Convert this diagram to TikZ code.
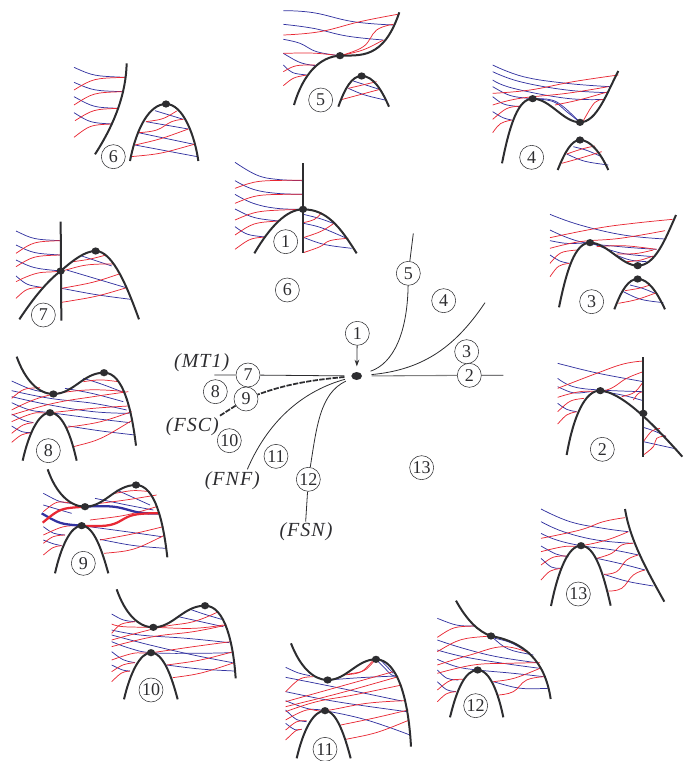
\documentclass[tikz,border=0pt]{standalone}
\usepackage{fontspec}
\setmainfont{Liberation Serif}
\usepackage{xcolor}
\definecolor{folblue}{RGB}{50,50,160}
\definecolor{folred}{RGB}{232,40,52}
\definecolor{sepdark}{RGB}{45,45,48}
\usetikzlibrary{arrows.meta, shapes.geometric}

\begin{document}
\begin{tikzpicture}[
  x=0.75pt, y=-0.75pt, tension=0.7,
  bf/.style={color=folblue, line width=0.55pt},
  rf/.style={color=folred, line width=0.55pt},
  bfat/.style={color=folblue, line width=1.7pt},
  rfat/.style={color=folred, line width=1.7pt},
  wall/.style={color=sepdark, line width=1.5pt},
  pt/.style={ellipse, fill=sepdark, inner sep=0pt, minimum width=6.2pt, minimum height=5.4pt},
  num/.style={circle, draw=sepdark, line width=0.4pt, fill=white, inner sep=0pt, minimum size=18pt,
              font=\fontsize{13.5}{15}\selectfont, text=sepdark},
  lbl/.style={font=\fontsize{15}{17}\selectfont\itshape\addfontfeature{LetterSpace=5}, text=sepdark},
  arc/.style={color=sepdark, line width=0.6pt},
  fsc/.style={color=sepdark, line width=1.3pt, dash pattern=on 4pt off 1pt}
]
  \useasboundingbox (0,0) rectangle (686,761);

  % Centre
  \begin{scope}[shift={(160,220)}, scale=1/3]
    \node[pt, minimum width=8pt, minimum height=6pt] (dot) at (590,468) {};
    \node[num] (c1) at (592,340) {1};
    \node[num] (c2) at (928,466) {2};
    \node[num] (c3) at (920,395) {3};
    \node[num] (c4) at (851,242) {4};
    \node[num] (c5) at (745,160) {5};
    \node[num] (c6) at (382,210) {6};
    \node[num] (c7) at (264,465) {7};
    \node[num] (c8) at (166,515) {8};
    \node[num] (c9) at (258,537) {9};
    \node[num] (c10) at (208,662) {10};
    \node[num] (c11) at (348,709) {11};
    \node[num] (c12) at (445,778) {12};
    \node[num] (c13) at (785,743) {13};
    \node[lbl] (mt) at (125,428) {(MT1)};
    \node[lbl] (fsc) at (97,620) {(FSC)};
    \node[lbl] (fnf) at (217,783) {(FNF)};
    \node[lbl] (fsn) at (438,935) {(FSN)};
    \coordinate (top5) at (760,40);
    \coordinate (top4) at (975,248);
    \coordinate (end2) at (1030,466);
    \coordinate (end7) at (163,465);
    \coordinate (end9) at (180,587);
    \coordinate (endf) at (262,748);
    \coordinate (end12) at (437,905);

    \draw[-{Stealth[length=5pt,width=3.5pt]}, arc, shorten >=4pt] (c1) -- (dot);
    \draw[arc, shorten <=7pt] (dot) .. controls (700,430) and (742,340) .. (c5);
    \draw[arc] (c5) -- (top5);
    \draw[arc, shorten <=7pt] (dot) .. controls (780,450) and (880,390) .. (top4);
    \draw[arc, gray, line width=0.8pt, shorten <=7pt] (dot) -- (c2);
    \draw[arc] (c2) -- (end2);
    \draw[arc, shorten <=5pt] (dot) -- (c7);
    \draw[arc] (c7) -- (end7);
    \draw[fsc, shorten <=5pt] (dot) .. controls (450,480) and (370,495) .. (c9);
    \draw[fsc] (c9) -- (end9);
    \draw[arc, shorten <=5pt] (dot) .. controls (440,510) and (330,590) .. (endf);
    \draw[arc, shorten <=5pt] (dot) .. controls (480,520) and (470,620) .. (c12);
    \draw[arc] (c12) -- (end12);
  \end{scope}

  % 1 and 5
  \begin{scope}[shift={(220,0)}, scale=1/3]
    \draw[bf] plot[smooth] coordinates {(45,487)(110,525)(170,538)(249,542)};
    \draw[bf] plot[smooth] coordinates {(45,542)(100,568)(170,580)(249,583)};
    \draw[bf] plot[smooth] coordinates {(45,583)(100,610)(170,625)(249,628)};
    \draw[bf] (45,627) .. controls (100,655) .. (176,663);
    \draw[bf] (45,680) .. controls (80,705) .. (135,711);
    \draw[rf] (45,565) .. controls (110,541) .. (249,541);
    \draw[rf] (45,610) .. controls (110,583) .. (249,583);
    \draw[rf] (45,660) .. controls (110,632) .. (249,628);
    \draw[rf] (45,705) .. controls (100,668) .. (176,663);
    \draw[rf] (45,748) .. controls (90,715) .. (135,711);
    \draw[bf] (250,643) .. controls (300,655) .. (345,672);
    \draw[bf] (250,670) .. controls (300,680) .. (380,715);
    \draw[bf] (250,712) .. controls (310,735) .. (395,745);
    \draw[rf] (250,668) .. controls (285,660) .. (305,638);
    \draw[rf] (250,713) .. controls (305,695) .. (345,668);
    \draw[rf] plot[smooth] coordinates {(250,758)(300,740)(330,722)(385,715)};
    \draw[wall] (249,490) -- (249,758);
    \draw[wall] (103,760) .. controls (150,680) and (200,628) .. (249,628) .. controls (320,628) and (360,680) .. (410,760);
    \node[pt] (a1) at (249,628) {};
    \node[num] (n1) at (197,725) {1};

    \draw[bf] plot[smooth] coordinates {(190,32)(280,38)(400,65)(520,75)};
    \draw[bf] plot[smooth] coordinates {(190,73)(280,85)(380,108)(490,120)};
    \draw[bf] plot[smooth] coordinates {(190,118)(240,130)(290,155)(360,167)};
    \draw[bf] (190,160) .. controls (240,190) .. (285,197);
    \draw[bf] (190,195) .. controls (215,220) .. (260,225);
    \draw[rf] plot[smooth] coordinates {(190,105)(300,95)(420,65)(538,42)};
    \draw[rf] (190,160) .. controls (280,158) .. (360,167);
    \draw[rf] plot[smooth] coordinates {(360,167)(430,140)(470,90)(520,73)};
    \draw[rf] (360,167) .. controls (430,152) .. (490,120);
    \draw[rf] (190,215) .. controls (225,195) .. (285,195);
    \draw[rf] (190,257) .. controls (220,232) .. (260,225);
    \draw[bf] (400,243) .. controls (440,255) .. (478,268);
    \draw[bf] (385,265) .. controls (430,285) .. (495,300);
    \draw[rf] (385,265) .. controls (430,255) .. (470,245);
    \draw[rf] (360,300) .. controls (420,285) .. (480,268);
    \draw[wall] (222,315) .. controls (250,220) and (300,170) .. (360,167) .. controls (420,165) and (490,180) .. (538,37);
    \draw[wall] (355,320) .. controls (375,265) and (395,228) .. (425,228) .. controls (460,228) and (485,270) .. (507,320);
    \node[pt] (a5) at (360,167) {};
    \node[pt] (b5) at (425,228) {};
    \node[num] (n5) at (302,300) {5};
  \end{scope}

  % 4 and 3
  \begin{scope}[shift={(480,50)}, scale=1/3]
    \draw[bf] plot[smooth] coordinates {(38,45)(130,80)(260,100)(390,110)};
    \draw[bf] plot[smooth] coordinates {(38,65)(120,95)(260,120)(385,128)};
    \draw[bf] plot[smooth] coordinates {(38,90)(100,115)(260,145)(375,148)};
    \draw[bf] (38,110) .. controls (90,140) .. (158,146);
    \draw[bf] (38,140) .. controls (70,165) .. (120,170);
    \draw[bf] (38,185) .. controls (70,205) .. (95,210);
    \draw[bf] plot[smooth] coordinates {(158,146)(220,155)(260,185)(300,217)};
    \draw[bf] plot[smooth] coordinates {(170,146)(215,150)(250,170)(300,217)};
    \draw[rf] plot[smooth] coordinates {(38,130)(150,120)(280,95)(415,75)};
    \draw[rf] plot[smooth] coordinates {(38,165)(120,145)(260,130)(385,110)};
    \draw[rf] (38,208) .. controls (80,172) .. (120,168);
    \draw[rf] (38,248) .. controls (60,218) .. (95,210);
    \draw[rf] (225,165) .. controls (300,150) .. (385,125);
    \draw[rf] (310,212) .. controls (345,150) .. (375,148);
    \draw[bf] (280,290) .. controls (320,300) .. (360,318);
    \draw[bf] (260,312) .. controls (310,335) .. (385,345);
    \draw[rf] (245,340) .. controls (300,325) .. (365,305);
    \draw[rf] (260,312) .. controls (310,295) .. (345,288);
    \draw[wall] (66,340) .. controls (90,220) and (115,146) .. (158,146) .. controls (210,146) and (250,217) .. (300,217) .. controls (350,217) and (380,130) .. (415,63);
    \draw[wall] (233,360) .. controls (255,305) and (275,270) .. (300,270) .. controls (330,270) and (360,305) .. (385,360);
    \node[pt] (a4) at (158,146) {};
    \node[pt] (b4) at (300,217) {};
    \node[pt] (d4) at (300,270) {};
    \node[num] (n4) at (155,322) {4};

    \draw[bf] plot[smooth] coordinates {(210,493)(300,525)(430,555)(555,567)};
    \draw[bf] plot[smooth] coordinates {(210,540)(300,575)(420,590)(530,598)};
    \draw[bf] (210,572) .. controls (260,582) .. (330,578);
    \draw[bf] (330,578) .. controls (420,612) .. (520,620);
    \draw[bf] (400,612) .. controls (450,632) .. (500,635);
    \draw[bf] (210,615) .. controls (240,635) .. (268,640);
    \draw[rf] plot[smooth] coordinates {(210,563)(350,535)(460,520)(578,508)};
    \draw[rf] plot[smooth] coordinates {(210,595)(300,575)(420,565)(555,542)};
    \draw[rf] (350,590) .. controls (430,585) .. (530,598);
    \draw[rf] (410,612) .. controls (470,612) .. (520,600);
    \draw[rf] (440,635) .. controls (480,632) .. (520,618);
    \draw[rf] (210,640) .. controls (240,605) .. (290,600);
    \draw[rf] (210,680) .. controls (235,645) .. (268,640);
    \draw[bf] (450,705) .. controls (490,715) .. (525,730);
    \draw[bf] (430,725) .. controls (480,750) .. (550,758);
    \draw[rf] (415,760) .. controls (470,750) .. (530,728);
    \draw[rf] (435,722) .. controls (480,715) .. (510,705);
    \draw[wall] (237,772) .. controls (260,660) and (285,578) .. (330,578) .. controls (380,578) and (425,647) .. (473,647) .. controls (525,647) and (555,570) .. (588,495);
    \draw[wall] (403,778) .. controls (425,720) and (445,687) .. (473,687) .. controls (505,687) and (530,725) .. (555,778);
    \node[pt] (a3) at (330,578) {};
    \node[pt] (b3) at (473,647) {};
    \node[pt] (d3) at (473,687) {};
    \node[num] (n3) at (335,755) {3};
  \end{scope}

  % 2, 13 and 12
  \begin{scope}[shift={(430,340)}, scale=1/3]
    \draw[bf] (383,70) .. controls (500,100) .. (640,125);
    \draw[bf] plot[smooth] coordinates {(383,115)(430,140)(510,150)(640,155)};
    \draw[bf] (383,140) .. controls (430,162) .. (480,155);
    \draw[bf] (520,155) .. controls (580,165) .. (640,182);
    \draw[bf] (383,190) .. controls (410,210) .. (440,215);
    \draw[rf] plot[smooth] coordinates {(383,145)(500,100)(580,72)(640,63)};
    \draw[rf] plot[smooth] coordinates {(383,172)(450,155)(530,150)(590,115)(640,95)};
    \draw[rf] (383,215) .. controls (420,180) .. (462,175);
    \draw[rf] (383,252) .. controls (410,222) .. (440,215);
    \draw[rf] (575,170) .. controls (615,160) .. (640,125);
    \draw[rf] (610,180) .. controls (625,158) .. (640,155);
    \draw[bf] (640,262) .. controls (680,275) .. (708,290);
    \draw[bf] (640,305) .. controls (690,315) .. (740,327);
    \draw[rf] (640,305) .. controls (665,270) .. (690,265);
    \draw[rf] plot[smooth] coordinates {(640,345)(670,320)(680,295)(708,288)};
    \draw[wall] (640,52) -- (640,350);
    \draw[wall] (410,345) .. controls (430,230) and (465,150) .. (511,152) .. controls (570,155) and (660,240) .. (757,350);
    \node[pt] (a2) at (511,152) {};
    \node[pt] (b2) at (640,220) {};
    \node[num] (n2) at (517,328) {2};

    \draw[bf] plot[smooth] coordinates {(333,507)(420,545)(520,565)(595,575)};
    \draw[bf] plot[smooth] coordinates {(333,545)(400,575)(500,600)(608,610)};
    \draw[bf] plot[smooth] coordinates {(333,580)(380,600)(453,617)(550,630)(625,645)};
    \draw[bf] (333,618) .. controls (380,645) .. (415,650);
    \draw[bf] (333,655) .. controls (365,685) .. (395,685);
    \draw[bf] (500,655) .. controls (570,670) .. (645,690);
    \draw[bf] (522,703) .. controls (590,725) .. (670,738);
    \draw[rf] plot[smooth] coordinates {(333,595)(450,570)(520,545)(585,533)};
    \draw[rf] plot[smooth] coordinates {(333,635)(400,620)(453,617)(530,600)(595,575)};
    \draw[rf] (333,675) .. controls (370,648) .. (415,648);
    \draw[rf] (333,720) .. controls (360,690) .. (395,685);
    \draw[rf] plot[smooth] coordinates {(500,655)(545,640)(575,615)(610,610)};
    \draw[rf] plot[smooth] coordinates {(522,703)(560,695)(590,660)(625,645)};
    \draw[rf] plot[smooth] coordinates {(535,753)(575,745)(610,705)(645,690)};
    \draw[wall] (585,507) .. controls (600,600) and (650,690) .. (703,785);
    \draw[wall] (363,798) .. controls (385,690) and (415,617) .. (453,617) .. controls (495,617) and (520,700) .. (542,797);
    \node[pt] (a13) at (453,617) {};
    \node[num] (n13) at (445,762) {13};

    \draw[bf] (22,835) .. controls (80,858) .. (135,858);
    \draw[bf] plot[smooth] coordinates {(22,900)(100,925)(200,950)(320,968)};
    \draw[bf] plot[smooth] coordinates {(22,930)(100,950)(220,970)(330,985)};
    \draw[bf] plot[smooth] coordinates {(22,958)(80,980)(143,990)(250,1000)(340,1010)};
    \draw[bf] (22,990) .. controls (50,1018) .. (85,1020);
    \draw[bf] (22,1025) .. controls (50,1052) .. (78,1055);
    \draw[bf] (190,1025) .. controls (270,1048) .. (355,1045);
    \draw[bf] (183,888) .. controls (230,930) .. (310,945);
    \draw[bf] (195,895) .. controls (240,905) .. (300,940);
    \draw[rf] (22,892) .. controls (70,860) .. (135,858);
    \draw[rf] (22,935) .. controls (90,895) .. (183,888);
    \draw[rf] plot[smooth] coordinates {(22,975)(120,945)(220,920)(300,940)};
    \draw[rf] plot[smooth] coordinates {(22,1000)(130,975)(230,970)(330,968)};
    \draw[rf] (22,1050) .. controls (60,1018) .. (100,1018);
    \draw[rf] (22,1085) .. controls (50,1058) .. (78,1055);
    \draw[rf] (190,1025) .. controls (250,1018) .. (330,985);
    \draw[rf] plot[smooth] coordinates {(205,1065)(250,1055)(290,1020)(345,1010)};
    \draw[wall] (78,782) .. controls (110,840) and (145,875) .. (183,888) .. controls (280,905) and (345,960) .. (362,1077);
    \draw[wall] (60,1132) .. controls (80,1050) and (105,990) .. (143,990) .. controls (180,990) and (205,1060) .. (220,1132);
    \node[pt] (a12) at (183,888) {};
    \node[pt] (b12) at (143,990) {};
    \node[num] (n12) at (137,1097) {12};
  \end{scope}

  % 11 and 10
  \begin{scope}[shift={(100,570)}, scale=1/3]
    \draw[bf] (557,292) .. controls (595,310) .. (630,317);
    \draw[bf] (557,322) .. controls (700,350) .. (905,393);
    \draw[bf] (557,365) .. controls (700,395) .. (920,425);
    \draw[bf] plot[smooth] coordinates {(557,392)(620,415)(675,422)(800,450)(930,495)};
    \draw[bf] (557,420) .. controls (590,452) .. (620,455);
    \draw[bf] (557,460) .. controls (585,482) .. (605,478);
    \draw[bf] (683,330) .. controls (790,322) .. (890,318);
    \draw[bf] plot[smooth] coordinates {(828,268)(850,290)(875,315)(890,318)};
    \draw[bf] (840,268) .. controls (860,290) .. (880,310);
    \draw[rf] (557,365) .. controls (600,322) .. (640,320);
    \draw[rf] (557,395) .. controls (700,355) .. (880,305);
    \draw[rf] (557,410) .. controls (720,370) .. (895,320);
    \draw[rf] plot[smooth] coordinates {(557,425)(650,395)(760,375)(905,345)};
    \draw[rf] plot[smooth] coordinates {(557,450)(620,420)(675,422)(800,400)(915,392)};
    \draw[rf] (557,480) .. controls (590,452) .. (620,452);
    \draw[rf] (557,510) .. controls (590,478) .. (605,478);
    \draw[rf] (722,465) .. controls (820,445) .. (925,420);
    \draw[rf] (737,508) .. controls (830,490) .. (928,450);
    \draw[rf] (730,315) .. controls (785,310) .. (820,270);
    \draw[rf] (745,312) .. controls (795,305) .. (825,270);
    \draw[wall] (573,220) .. controls (600,290) and (640,330) .. (683,330) .. controls (740,330) and (770,268) .. (828,268) .. controls (890,268) and (925,380) .. (933,530);
    \draw[wall] (590,565) .. controls (610,480) and (640,422) .. (675,422) .. controls (710,422) and (735,500) .. (752,565);
    \node[pt] (a11) at (683,330) {};
    \node[pt] (b11) at (828,268) {};
    \node[pt] (d11) at (675,422) {};
    \node[num] (n11) at (675,538) {11};

    \draw[bf] (35,132) .. controls (70,152) .. (105,155);
    \draw[bf] plot[smooth] coordinates {(35,180)(120,195)(260,205)(388,218)};
    \draw[bf] plot[smooth] coordinates {(35,215)(90,235)(153,248)(280,250)(395,248)};
    \draw[bf] plot[smooth] coordinates {(35,195)(150,225)(280,255)(398,278)};
    \draw[bf] (35,245) .. controls (70,272) .. (105,278);
    \draw[bf] (35,285) .. controls (70,302) .. (90,303);
    \draw[bf] (200,285) .. controls (300,298) .. (403,303);
    \draw[bf] (235,140) .. controls (300,155) .. (370,170);
    \draw[bf] (270,118) .. controls (320,135) .. (365,148);
    \draw[rf] plot[smooth] coordinates {(35,162)(70,170)(160,172)(280,175)(370,165)};
    \draw[rf] (35,190) .. controls (60,160) .. (105,155);
    \draw[rf] plot[smooth] coordinates {(35,210)(180,172)(280,155)(355,125)};
    \draw[rf] plot[smooth] coordinates {(35,230)(160,200)(280,185)(380,165)};
    \draw[rf] plot[smooth] coordinates {(35,270)(100,250)(153,248)(280,230)(392,215)};
    \draw[rf] (35,305) .. controls (70,282) .. (105,278);
    \draw[rf] (35,335) .. controls (65,306) .. (90,303);
    \draw[rf] (200,285) .. controls (300,272) .. (400,245);
    \draw[rf] (218,323) .. controls (300,312) .. (403,278);
    \draw[wall] (50,58) .. controls (75,130) and (115,172) .. (160,172) .. controls (220,172) and (250,107) .. (315,107) .. controls (375,107) and (400,220) .. (407,325);
    \draw[wall] (72,388) .. controls (90,310) and (120,248) .. (153,248) .. controls (190,248) and (215,320) .. (233,388);
    \node[pt] (a10) at (160,172) {};
    \node[pt] (b10) at (315,107) {};
    \node[pt] (d10) at (153,248) {};
    \node[num] (n10) at (153,360) {10};
  \end{scope}

  % 8 and 9
  \begin{scope}[shift={(0,350)}, scale=1/3]
    \draw[bf] (35,93) .. controls (90,118) .. (125,125);
    \draw[bf] plot[smooth] coordinates {(35,122)(150,145)(280,160)(380,180)};
    \draw[bf] plot[smooth] coordinates {(35,140)(150,165)(280,185)(388,190)};
    \draw[bf] plot[smooth] coordinates {(35,158)(90,180)(150,188)(280,205)(390,218)};
    \draw[bf] (35,192) .. controls (70,212) .. (100,218);
    \draw[bf] (35,228) .. controls (65,247) .. (95,248);
    \draw[bf] (205,228) .. controls (300,243) .. (405,255);
    \draw[bf] (195,115) .. controls (280,130) .. (370,155);
    \draw[bf] (250,85) .. controls (300,100) .. (365,125);
    \draw[rf] (35,145) .. controls (70,115) .. (120,113);
    \draw[rf] plot[smooth] coordinates {(35,180)(130,140)(260,120)(375,125)};
    \draw[rf] plot[smooth] coordinates {(35,195)(160,160)(280,140)(385,125)};
    \draw[rf] plot[smooth] coordinates {(35,215)(100,190)(150,188)(280,175)(385,168)};
    \draw[rf] (35,250) .. controls (70,222) .. (100,218);
    \draw[rf] (35,277) .. controls (65,252) .. (95,248);
    \draw[rf] (200,232) .. controls (300,218) .. (395,185);
    \draw[rf] (220,290) .. controls (300,270) .. (398,210);
    \draw[rf] (250,95) .. controls (300,88) .. (355,95);
    \draw[wall] (50,20) .. controls (75,90) and (115,132) .. (160,132) .. controls (220,132) and (250,68) .. (312,68) .. controls (370,68) and (395,180) .. (408,287);
    \draw[wall] (68,332) .. controls (85,255) and (115,188) .. (150,188) .. controls (190,188) and (215,265) .. (230,332);
    \node[pt] (a8) at (160,132) {};
    \node[pt] (b8) at (312,68) {};
    \node[pt] (d8) at (150,188) {};
    \node[num] (n8) at (145,302) {8};

    \draw[bf] (130,430) .. controls (180,457) .. (215,460);
    \draw[bf] (130,465) .. controls (180,480) .. (215,490);
    \draw[bf] (285,445) .. controls (380,465) .. (460,480);
    \draw[bf] (350,420) .. controls (400,440) .. (450,465);
    \draw[bf] (245,527) .. controls (380,545) .. (485,560);
    \draw[bf] (130,530) .. controls (160,552) .. (195,555);
    \draw[bf] (130,570) .. controls (160,582) .. (185,587);
    \draw[bf] (300,568) .. controls (400,588) .. (497,595);
    \draw[rf] (130,485) .. controls (170,452) .. (215,460);
    \draw[rf] (130,555) .. controls (190,527) .. (245,527);
    \draw[rf] (130,580) .. controls (160,557) .. (195,555);
    \draw[rf] (130,615) .. controls (160,590) .. (185,587);
    \draw[rf] (270,510) .. controls (380,497) .. (470,470);
    \draw[rf] (300,570) .. controls (400,552) .. (490,530);
    \draw[rf] (312,610) .. controls (400,602) .. (495,555);
    \draw[rf] (345,430) .. controls (400,420) .. (450,425);
    \draw[rf] (300,460) .. controls (380,450) .. (470,435);
    \draw[bfat] (125,490) .. controls (180,522) .. (245,527);
    \draw[bfat] plot[smooth] coordinates {(255,470)(340,470)(420,488)(478,490)};
    \draw[rfat] (128,518) .. controls (180,475) .. (255,470);
    \draw[rfat] plot[smooth] coordinates {(245,527)(330,525)(400,495)(478,490)};
    \draw[wall] (143,358) .. controls (168,430) and (210,470) .. (255,470) .. controls (315,470) and (345,405) .. (408,405) .. controls (465,405) and (490,515) .. (502,622);
    \draw[wall] (165,670) .. controls (183,590) and (212,527) .. (245,527) .. controls (282,527) and (307,605) .. (325,670);
    \node[pt] (a9) at (255,470) {};
    \node[pt] (b9) at (408,405) {};
    \node[pt] (d9) at (245,527) {};
    \node[num] (n9) at (250,640) {9};
  \end{scope}

  % 7 and 6
  \begin{scope}[shift={(0,50)}, scale=1/3]
    \draw[bf] (48,543) .. controls (100,568) .. (180,572);
    \draw[bf] (48,585) .. controls (100,610) .. (180,615);
    \draw[bf] (48,630) .. controls (100,655) .. (182,663);
    \draw[bf] (48,678) .. controls (80,705) .. (125,712);
    \draw[bf] (245,618) .. controls (290,630) .. (335,648);
    \draw[bf] (200,660) .. controls (290,685) .. (378,713);
    \draw[bf] (185,715) .. controls (290,735) .. (392,748);
    \draw[rf] (48,610) .. controls (100,575) .. (180,572);
    \draw[rf] (48,650) .. controls (100,618) .. (180,615);
    \draw[rf] plot[smooth] coordinates {(48,695)(110,670)(182,663)(260,645)(340,642)};
    \draw[rf] (48,745) .. controls (80,715) .. (125,712);
    \draw[rf] (220,635) .. controls (270,628) .. (318,615);
    \draw[rf] (185,715) .. controls (280,698) .. (358,672);
    \draw[rf] (185,757) .. controls (290,740) .. (380,713);
    \draw[wall] (182,515) -- (184,812);
    \draw[wall] (58,808) .. controls (100,745) and (140,695) .. (182,663) .. controls (220,630) and (255,603) .. (287,603) .. controls (340,603) and (385,720) .. (417,808);
    \node[pt] (a7) at (182,663) {};
    \node[pt] (b7) at (287,603) {};
    \node[num] (n7) at (130,795) {7};

    \draw[bf] (222,52) .. controls (280,78) .. (375,82);
    \draw[bf] (222,97) .. controls (280,122) .. (368,125);
    \draw[bf] (222,140) .. controls (280,172) .. (355,175);
    \draw[bf] (222,188) .. controls (270,218) .. (335,222);
    \draw[bf] (465,182) .. controls (510,195) .. (550,208);
    \draw[bf] (438,215) .. controls (500,225) .. (565,237);
    \draw[bf] (415,248) .. controls (500,265) .. (582,283);
    \draw[bf] (405,285) .. controls (500,302) .. (592,320);
    \draw[rf] (222,120) .. controls (280,85) .. (375,82);
    \draw[rf] (222,165) .. controls (280,128) .. (368,125);
    \draw[rf] (225,212) .. controls (280,178) .. (355,175);
    \draw[rf] (222,262) .. controls (270,225) .. (335,222);
    \draw[rf] (438,215) .. controls (490,208) .. (530,183);
    \draw[rf] plot[smooth] coordinates {(415,248)(470,240)(515,215)(550,208)};
    \draw[rf] (405,285) .. controls (480,268) .. (565,237);
    \draw[rf] (392,320) .. controls (480,312) .. (582,283);
    \draw[wall] (380,40) .. controls (378,130) and (345,220) .. (285,313);
    \draw[wall] (390,333) .. controls (410,230) and (450,162) .. (498,162) .. controls (550,162) and (585,260) .. (595,333);
    \node[pt] (a6) at (498,162) {};
    \node[num] (n6) at (340,320) {6};
  \end{scope}
\end{tikzpicture}
\end{document}
